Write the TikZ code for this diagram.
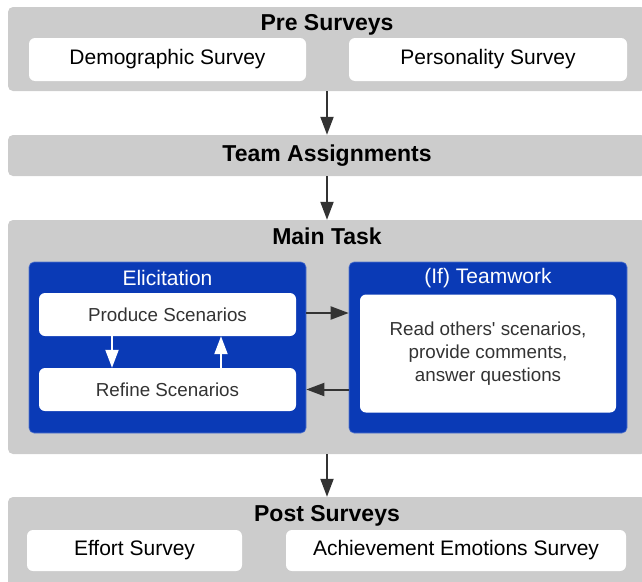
\documentclass[tikz,border=0pt]{standalone}
\usepackage{fontspec}
\setmainfont{Liberation Sans}
\newfontfamily\rawsans{Liberation Sans}
\usetikzlibrary{arrows.meta,calc}
\definecolor{greybox}{HTML}{CCCCCC}
\definecolor{bluebox}{HTML}{0A3AB6}
\definecolor{arrowgrey}{HTML}{333333}
\definecolor{innertext}{HTML}{333333}
\begin{document}
\begin{tikzpicture}[x=1pt,y=-1pt,
  stage/.style={rectangle, fill=greybox, rounded corners=5pt, inner sep=0pt},
  bluestage/.style={rectangle, fill=bluebox, draw=bluebox!70!white, line width=0.6pt, rounded corners=5pt, inner sep=0pt},
  whitebox/.style={rectangle, fill=white, rounded corners=6pt, inner sep=0pt, font=\fontsize{21}{25}\selectfont},
  innerbox/.style={rectangle, fill=white, rounded corners=6pt, inner sep=0pt, text=innertext, font=\rawsans\fontsize{18.8}{23}\selectfont, align=center},
  stagetitle/.style={font=\fontsize{23}{27}\selectfont\bfseries, inner sep=0pt, anchor=base},
  bluetitle/.style={font=\fontsize{21}{25}\selectfont, text=white, inner sep=0pt},
  arr/.style={draw=arrowgrey, line width=2pt, -{Triangle[length=18pt,width=13pt]}, color=arrowgrey},
  warr/.style={draw=white, line width=2pt, -{Triangle[length=18pt,width=13pt]}, color=white}
]
\useasboundingbox (0,0) rectangle (642,581);
\clip (0,0) rectangle (642,581);

% grey stages
\node[stage, minimum width=638pt, minimum height=84pt] (pre) at (327,49) {};
\node[stage, minimum width=638pt, minimum height=41pt] (team) at (327,155.5) {};
\node[stage, minimum width=638pt, minimum height=234pt] (main) at (327,337) {};
\node[stage, minimum width=638pt, minimum height=90pt] (post) at (327,542) {};

% titles
\node[stagetitle] (pretitle) at (327,30.5) {Pre Surveys};
\node[stagetitle] (teamtitle) at (327,161) {Team Assignments};
\node[stagetitle] (maintitle) at (327,244.5) {Main Task};
\node[stagetitle] (posttitle) at (327,521.5) {Post Surveys};

% pre surveys
\node[whitebox, minimum width=277pt, minimum height=43pt] (demo) at (167.5,59.5) {Demographic Survey};
\node[whitebox, minimum width=278pt, minimum height=43pt] (pers) at (488,59.5) {Personality Survey};

% main task
\node[bluestage, minimum width=277pt, minimum height=171pt] (elic) at (167.5,347.5) {};
\node[bluestage, minimum width=278pt, minimum height=171pt] (tw) at (488,347.5) {};
\node[bluetitle] (elictitle) at (167.5,278) {Elicitation};
\node[bluetitle] (twtitle) at (488,278.5) {(If) Teamwork};
\node[innerbox, minimum width=257pt, minimum height=43pt] (produce) at (167.5,314.5) {Produce Scenarios};
\node[innerbox, minimum width=257pt, minimum height=43pt] (refine) at (167.5,389.5) {Refine Scenarios};
\node[innerbox, minimum width=256pt, minimum height=118pt] (read) at (488,353.5) {Read others' scenarios,\\provide comments,\\answer questions};

% post surveys
\node[whitebox, minimum width=215pt, minimum height=41pt] (effort) at (134.5,550.5) {Effort Survey};
\node[whitebox, minimum width=340pt, minimum height=41pt] (achieve) at (456,550.5) {Achievement Emotions Survey};

% connectors
\draw[arr] (pre.south) -- (team.north);
\draw[arr] (team.south) -- (main.north);
\draw[arr] (main.south) -- (post.north);
\draw[arr] ($(elic.east)+(0,-34.5)$) -- ($(tw.west)+(0,-34.5)$);
\draw[arr] (refine -| tw.west) -- (refine -| elic.east);
\draw[warr] ($(produce.south)+(-55.5,0)$) -- ($(refine.north)+(-55.5,0)$);
\draw[warr] ($(refine.north)+(53.5,0)$) -- ($(produce.south)+(53.5,0)$);
\end{tikzpicture}
\end{document}
